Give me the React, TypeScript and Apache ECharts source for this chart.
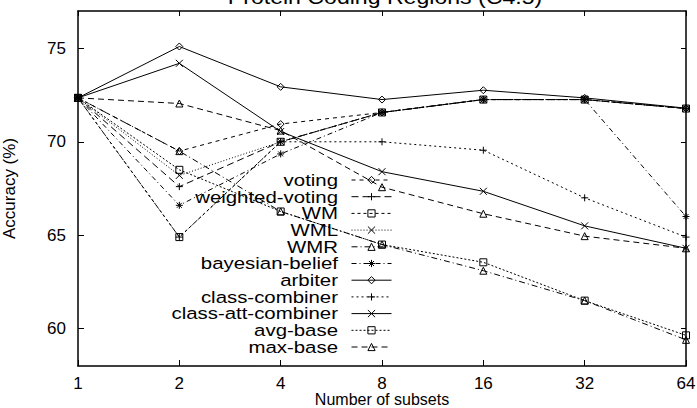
import React, { useEffect, useRef } from 'react';
import * as echarts from 'echarts';

const categories = ['1', '2', '4', '8', '16', '32', '64'];
const yTicks = [60, 65, 70, 75];

const voting = [72.35, 69.5, 70.95, 71.57, 72.26, 72.26, 71.78];
const weightedVoting = [72.35, 67.6, 70.0, 71.57, 72.26, 72.26, 71.78];
const wm = [72.35, 64.9, 70.0, 71.57, 72.26, 72.26, 71.78];
const wml = [72.35, 68.2, 70.0, 71.57, 72.26, 72.26, 71.78];
const wmr = [72.35, 69.5, 66.27, 64.5, 63.1, 61.5, 59.4];
const bayesianBelief = [72.35, 66.6, 69.35, 71.57, 72.26, 72.26, 66.0];
const arbiter = [72.35, 75.1, 72.94, 72.26, 72.76, 72.35, 71.8];
const classCombiner = [72.35, 64.9, 70.0, 70.0, 69.55, 67.0, 64.9];
const classAttCombiner = [72.35, 74.2, 70.55, 68.4, 67.35, 65.5, 64.3];
const avgBase = [72.35, 68.5, 66.27, 64.5, 63.55, 61.5, 59.64];
const maxBase = [72.35, 72.05, 70.6, 67.57, 66.15, 64.95, 64.3];

const SYM = {
  diamond: 'path://M5,0L10,5L5,10L0,5Z',
  square: 'path://M0,0L10,0L10,10L0,10Z',
  triangle: 'path://M5,0L10,10L0,10Z',
  plus: 'path://M5,0L5,10M0,5L10,5',
  cross: 'path://M0,0L10,10M10,0L0,10',
  star: 'path://M5,0L5,10M0,5L10,5M1.5,1.5L8.5,8.5M8.5,1.5L1.5,8.5',
};

const seriesDefs = [
  { name: 'voting', data: voting, symbol: SYM.diamond, dash: [4, 4] },
  { name: 'weighted-voting', data: weightedVoting, symbol: SYM.plus, dash: [7, 4] },
  { name: 'WM', data: wm, symbol: SYM.square, dash: [3, 3] },
  { name: 'WML', data: wml, symbol: SYM.cross, dash: [1, 2] },
  { name: 'WMR', data: wmr, symbol: SYM.triangle, dash: [6, 3, 1, 3] },
  { name: 'bayesian-belief', data: bayesianBelief, symbol: SYM.star, dash: [5, 3, 1, 3] },
  { name: 'arbiter', data: arbiter, symbol: SYM.diamond, dash: 'solid' },
  { name: 'class-combiner', data: classCombiner, symbol: SYM.plus, dash: [2, 3] },
  { name: 'class-att-combiner', data: classAttCombiner, symbol: SYM.cross, dash: 'solid' },
  { name: 'avg-base', data: avgBase, symbol: SYM.square, dash: [2, 2] },
  { name: 'max-base', data: maxBase, symbol: SYM.triangle, dash: [6, 4] },
];

const FONT = 'Liberation Sans';
const LEGEND_Y0 = 180;
const LEGEND_STEP = 16.7;

export default function App() {
  const ref = useRef<HTMLDivElement>(null);
  useEffect(() => {
    if (!ref.current) return;
    const chart = echarts.init(ref.current, null, { renderer: 'svg' });
    const textBase = { fontFamily: FONT, color: '#000' };
    chart.setOption({
      animation: false,
      backgroundColor: '#fff',
      grid: { left: 78, right: 11, top: 11, bottom: 42, outerBoundsMode: 'none', containLabel: false },
      graphic: [
        {
          type: 'text',
          x: 385,
          y: 7,
          scaleX: 1.1,
          style: {
            text: 'Protein Coding Regions (C4.5)',
            fontSize: 21,
            fontFamily: FONT,
            align: 'center',
            verticalAlign: 'bottom',
            fill: '#000',
          },
        },
        {
          type: 'text',
          x: 382,
          y: 399,
          style: {
            text: 'Number of subsets',
            fontSize: 16,
            lineHeight: 16,
            fontFamily: FONT,
            align: 'center',
            verticalAlign: 'middle',
            fill: '#000',
          },
        },
        ...seriesDefs.map((s, i) => ({
          type: 'text',
          x: 338,
          y: LEGEND_Y0 + i * LEGEND_STEP,
          scaleX: 1.2,
          style: {
            text: s.name,
            fontSize: 17,
            fontFamily: FONT,
            align: 'right',
            verticalAlign: 'middle',
            fill: '#000',
          },
        })),
      ],
      legend: seriesDefs.map((s, i) => ({
        data: [s.name],
        orient: 'horizontal',
        align: 'right',
        right: 305,
        top: LEGEND_Y0 + i * LEGEND_STEP - 4.5,
        itemWidth: 40,
        itemHeight: 9,
        padding: 0,
        selectedMode: false,
        formatter: () => '',
        lineStyle: { width: 1 },
        itemStyle: { color: 'rgba(0,0,0,0)', borderColor: '#000', borderWidth: 1 },
        textStyle: { fontSize: 1 },
      })),
      xAxis: [
        {
          type: 'category',
          data: categories,
          boundaryGap: false,
          position: 'bottom',
          axisLine: { show: true, lineStyle: { color: '#000', width: 1.5 } },
          axisTick: { show: true, inside: true, length: 6, lineStyle: { color: '#000' } },
          axisLabel: { ...textBase, fontSize: 17, lineHeight: 16, margin: 9 },
          splitLine: { show: false },
        },
        {
          type: 'category',
          data: categories,
          boundaryGap: false,
          position: 'top',
          axisLine: { show: true, lineStyle: { color: '#000', width: 1.5 } },
          axisTick: { show: true, inside: true, length: 5, lineStyle: { color: '#000' } },
          axisLabel: { show: false },
          splitLine: { show: false },
        },
      ],
      yAxis: [
        {
          type: 'value',
          min: 58,
          max: 77,
          position: 'left',
          name: 'Accuracy (%)',
          nameLocation: 'middle',
          nameRotate: 90,
          nameGap: 60,
          nameTextStyle: { ...textBase, fontSize: 17 },
          axisLine: { show: true, lineStyle: { color: '#000', width: 1.5 } },
          axisTick: { show: true, inside: true, length: 6, customValues: yTicks, lineStyle: { color: '#000' } },
          axisLabel: { ...textBase, fontSize: 17, margin: 12, customValues: yTicks },
          splitLine: { show: false },
        },
        {
          type: 'value',
          min: 58,
          max: 77,
          position: 'right',
          axisLine: { show: true, lineStyle: { color: '#000', width: 1.5 } },
          axisTick: { show: true, inside: true, length: 5, customValues: yTicks, lineStyle: { color: '#000' } },
          axisLabel: { show: false, customValues: yTicks },
          splitLine: { show: false },
        },
      ],
      series: seriesDefs.map((s) => ({
        name: s.name,
        type: 'line',
        data: s.data,
        xAxisIndex: 0,
        yAxisIndex: 0,
        symbol: s.symbol,
        symbolSize: 7,
        showSymbol: true,
        lineStyle: { color: '#000', width: 1, type: s.dash },
        itemStyle: { color: 'rgba(0,0,0,0)', borderColor: '#000', borderWidth: 1 },
        emphasis: { disabled: true },
      })),
    });
    return () => chart.dispose();
  }, []);
  return (
    <div
      ref={ref}
      style={{ position: 'absolute', left: 0, top: 0, width: 697, height: 408 }}
    />
  );
}
